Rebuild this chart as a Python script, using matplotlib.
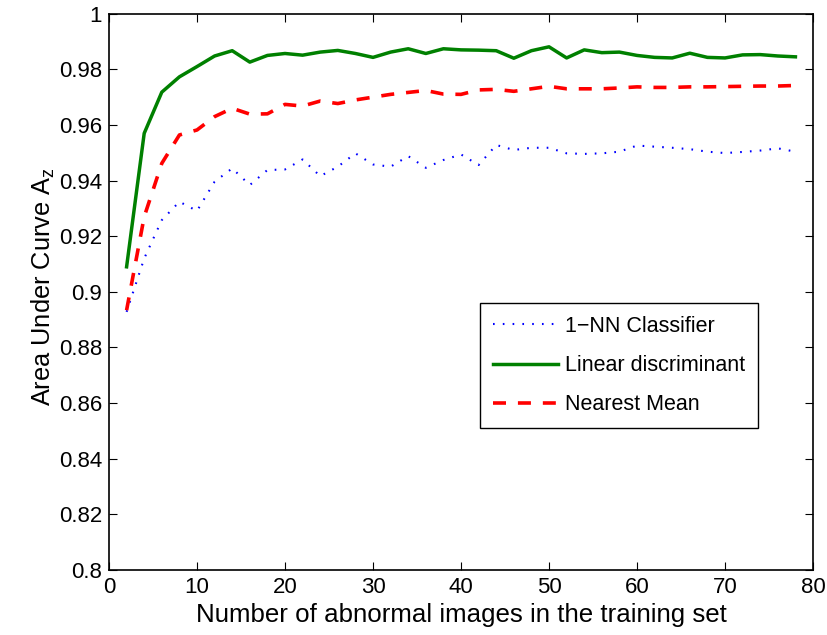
import matplotlib
matplotlib.use("Agg")
import matplotlib.pyplot as plt
import numpy as np

plt.rcParams['font.family'] = ['Liberation Sans', 'DejaVu Sans']
plt.rcParams['mathtext.fontset'] = 'custom'
plt.rcParams['mathtext.rm'] = 'Liberation Sans'

n_abnormal = list(range(2, 80, 2))

nn_1 = [0.8928, 0.912, 0.9258, 0.9324, 0.9291, 0.9396, 0.9444, 0.9384, 0.9438, 0.944,
        0.9476, 0.9416, 0.945, 0.9498, 0.9458, 0.945, 0.9488, 0.9446, 0.9474, 0.9494,
        0.9456, 0.9528, 0.951, 0.9518, 0.9518, 0.9498, 0.9496, 0.9498, 0.9504, 0.9526,
        0.9522, 0.9518, 0.9513, 0.9504, 0.9499, 0.9503, 0.9508, 0.9516, 0.9504]

linear_disc = [0.909, 0.957, 0.9718, 0.9773, 0.981, 0.9848, 0.9867, 0.9826, 0.985, 0.9857,
               0.9851, 0.9862, 0.9868, 0.9857, 0.9843, 0.9862, 0.9874, 0.9857, 0.9874, 0.987,
               0.9869, 0.9867, 0.984, 0.9867, 0.9881, 0.9841, 0.987, 0.986, 0.9862, 0.985,
               0.9843, 0.9841, 0.9858, 0.9843, 0.9841, 0.9852, 0.9853, 0.9848, 0.9845]

nearest_mean = [0.8934, 0.927, 0.9462, 0.9564, 0.9582, 0.963, 0.966, 0.9639, 0.964, 0.9674,
                0.9668, 0.9686, 0.9677, 0.969, 0.970, 0.971, 0.9717, 0.9724, 0.9711, 0.971,
                0.9726, 0.9728, 0.9721, 0.973, 0.9739, 0.973, 0.973, 0.973, 0.9733, 0.9737,
                0.9735, 0.9735, 0.9737, 0.9737, 0.9738, 0.9739, 0.974, 0.974, 0.9742]

x_ticks = [0, 10, 20, 30, 40, 50, 60, 70, 80]
y_ticks = [0.8, 0.82, 0.84, 0.86, 0.88, 0.9, 0.92, 0.94, 0.96, 0.98, 1.0]
y_tick_labels = ['0.8', '0.82', '0.84', '0.86', '0.88', '0.9', '0.92', '0.94', '0.96', '0.98', '1']

fig = plt.figure(figsize=(8.27, 6.35), dpi=100)
ax = fig.add_axes([0.1318, 0.1024, 0.8513, 0.876])

ax.plot(n_abnormal, nn_1, color=(0, 0, 1), linestyle=(0, (0.8, 3.9)), linewidth=1.5,
        label='1\u2212NN Classifier')
ax.plot(n_abnormal, linear_disc, color=(0, 0.5, 0), linestyle='-', linewidth=2.5,
        label='Linear discriminant')
ax.plot(n_abnormal, nearest_mean, color=(1, 0, 0), linestyle=(0, (3.6, 3.3)), linewidth=2.6,
        label='Nearest Mean')

ax.set_xlim(0, 80)
ax.set_ylim(0.8, 1.0)
ax.set_xticks(x_ticks)
ax.set_yticks(y_ticks)
ax.set_yticklabels(y_tick_labels)
ax.tick_params(direction='in', top=True, right=True, labelsize=16, length=6, width=0.8, pad=5)
for s in ax.spines.values():
    s.set_linewidth(1.2)

ax.set_xlabel('Number of abnormal images in the training set', fontsize=18.6, labelpad=4)
ax.set_ylabel('Area Under Curve A$_{\\mathregular{z}}$', fontsize=18.3)
ax.yaxis.set_label_coords(-0.074, 0.51)

leg = ax.legend(loc='upper left', bbox_to_anchor=(0.527, 0.48), fontsize=15.5,
                frameon=True, fancybox=False, edgecolor='black', framealpha=1,
                handlelength=3.0, borderpad=0.6, labelspacing=0.85, handletextpad=0.33,
                borderaxespad=0)
leg.get_frame().set_linewidth(1.0)

fig.savefig('out.png', dpi=100)
